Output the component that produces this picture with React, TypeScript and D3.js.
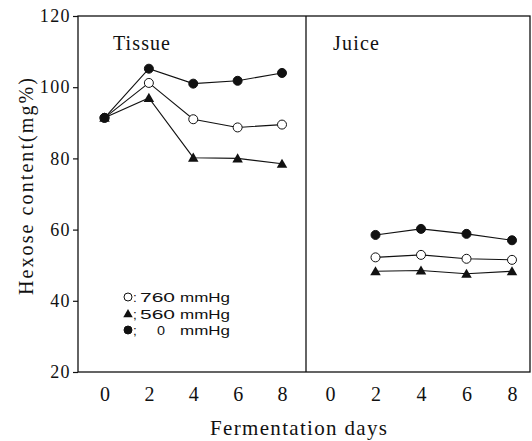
import React, { useRef, useEffect } from "react"
import * as d3 from "d3"

const days = [0, 2, 4, 6, 8]
const juiceDays = [2, 4, 6, 8]
const yTicks = [20, 40, 60, 80, 100, 120]

// Tissue
const tissue0 = [91.4, 105.2, 101, 101.8, 104]
const tissue760 = [91.4, 101.2, 91, 88.7, 89.5]
const tissue560 = [91.4, 97, 80.2, 80, 78.5]

// Juice
const juice0 = [58.5, 60.2, 58.8, 57]
const juice760 = [52.2, 52.9, 51.8, 51.5]
const juice560 = [48.3, 48.5, 47.6, 48.3]

const legendSep = [":", ";", ";"]
const legendNums = ["760", "560", "0"]
const legendUnit = "mmHg"

const serif = "'Liberation Serif', 'DejaVu Serif', serif"
const sans = "'Liberation Sans', Arial, sans-serif"

const App: React.FunctionComponent = () => {
	const svgRef = useRef<any>()

	const createGraph = () => {
		const svg = d3.select(svgRef.current)
		svg.selectAll("*").remove()

		const top = 16
		const bottom = 372
		const left = 78
		const mid = 306
		const right = 530

		const yScale = d3.scaleLinear().domain([20, 120]).range([bottom, top])
		const xLeft = d3.scaleLinear().domain([0, 8]).range([104.5, 282])
		const xRight = d3.scaleLinear().domain([0, 8]).range([330, 512])

		// frame
		svg.append("rect")
			.attr("x", left)
			.attr("y", top)
			.attr("width", right - left)
			.attr("height", bottom - top)
			.attr("fill", "none")
			.attr("stroke", "#111")
			.attr("stroke-width", 1.3)
		svg.append("line")
			.attr("x1", mid).attr("x2", mid)
			.attr("y1", top).attr("y2", bottom)
			.attr("stroke", "#111")
			.attr("stroke-width", 1.3)

		// y axis
		const yAxis = d3.axisLeft(yScale).tickValues(yTicks).tickSize(5).tickPadding(2)
		const gy = svg.append("g").attr("transform", `translate(${left},0)`).call(yAxis)
		gy.select(".domain").remove()
		gy.selectAll("line").attr("stroke", "#111").attr("stroke-width", 1.2)
		gy.selectAll("text")
			.attr("font-family", serif)
			.attr("font-size", 18)
			.attr("letter-spacing", 1.4)
			.attr("fill", "#111")

		// x axes
		const drawX = (scale: any) => {
			const ax = d3.axisBottom(scale).tickValues(days).tickSize(0)
			const g = svg.append("g").attr("transform", `translate(0,${bottom})`).call(ax)
			g.select(".domain").remove()
			g.selectAll("text")
				.attr("y", 29)
				.attr("dy", 0)
				.attr("font-family", serif)
				.attr("font-size", 20)
				.attr("fill", "#111")
		}
		drawX(xLeft)
		drawX(xRight)

		const line = (scale: any, xs: number[]) =>
			d3.line<number>()
				.x((d, i) => scale(xs[i]))
				.y((d) => yScale(d))

		const tri = d3.symbol().type(d3.symbolTriangle).size(48)

		const drawSeries = (scale: any, xs: number[], vals: number[], kind: string) => {
			svg.append("path")
				.attr("d", line(scale, xs)(vals))
				.attr("fill", "none")
				.attr("stroke", "#111")
				.attr("stroke-width", 1.1)
			const g = svg.append("g")
			if (kind === "tri") {
				g.selectAll("path")
					.data(vals)
					.join("path")
					.attr("d", tri as any)
					.attr("transform", (d, i) => `translate(${scale(xs[i])},${yScale(d) + 1})`)
					.attr("fill", "#111")
			} else {
				g.selectAll("circle")
					.data(vals)
					.join("circle")
					.attr("cx", (d, i) => scale(xs[i]))
					.attr("cy", (d) => yScale(d))
					.attr("r", 4.5)
					.attr("fill", kind === "open" ? "#fff" : "#111")
					.attr("stroke", "#111")
					.attr("stroke-width", 1)
			}
		}

		drawSeries(xLeft, days, tissue760, "open")
		drawSeries(xLeft, days, tissue560, "tri")
		drawSeries(xLeft, days, tissue0, "filled")
		drawSeries(xRight, juiceDays, juice760, "open")
		drawSeries(xRight, juiceDays, juice560, "tri")
		drawSeries(xRight, juiceDays, juice0, "filled")

		// panel labels
		svg.append("text").attr("x", 113).attr("y", 50).text("Tissue")
			.attr("font-family", serif).attr("font-size", 20).attr("fill", "#111")
			.attr("textLength", 57).attr("lengthAdjust", "spacing")
		svg.append("text").attr("x", 333).attr("y", 50).text("Juice")
			.attr("font-family", serif).attr("font-size", 20).attr("fill", "#111")
			.attr("textLength", 46).attr("lengthAdjust", "spacing")

		// legend
		const legendY = [297, 313.5, 330]
		const kinds = ["open", "tri", "filled"]
		legendNums.forEach((num, i) => {
			const y = legendY[i]
			if (kinds[i] === "tri") {
				svg.append("path").attr("d", tri as any)
					.attr("transform", `translate(128,${y + 1}) scale(0.9)`)
					.attr("fill", "#111")
			} else {
				svg.append("circle").attr("cx", 128).attr("cy", y).attr("r", 4)
					.attr("fill", kinds[i] === "open" ? "#fff" : "#111")
					.attr("stroke", "#111")
			}
			const txt = (x: number, s: string, len?: number) => {
				const t = svg.append("text").attr("x", x).attr("y", y + 5).text(s)
					.attr("font-family", sans).attr("font-size", 13.5).attr("fill", "#111")
				if (len) t.attr("textLength", len).attr("lengthAdjust", "spacingAndGlyphs")
			}
			txt(133, legendSep[i])
			if (num.length > 1) txt(140, num, 35)
			else txt(157, num, 8)
			txt(180, legendUnit, 50)
		})

		// axis titles
		svg.append("text")
			.attr("x", 210).attr("y", 435)
			.text("Fermentation days")
			.attr("font-family", serif).attr("font-size", 21).attr("fill", "#111")
			.attr("textLength", 177).attr("lengthAdjust", "spacing")
		svg.append("text")
			.attr("transform", "translate(33,295) rotate(-90)")
			.text("Hexose content(mg%)")
			.attr("font-family", serif).attr("font-size", 20).attr("fill", "#111")
			.attr("textLength", 217).attr("lengthAdjust", "spacing")
	}

	useEffect(() => {
		createGraph()
	}, [])

	return (
		<svg
			ref={svgRef}
			width={532}
			height={441}
			style={{ position: "absolute", left: 0, top: 0, background: "#fff" }}
		></svg>
	)
}

export default App
